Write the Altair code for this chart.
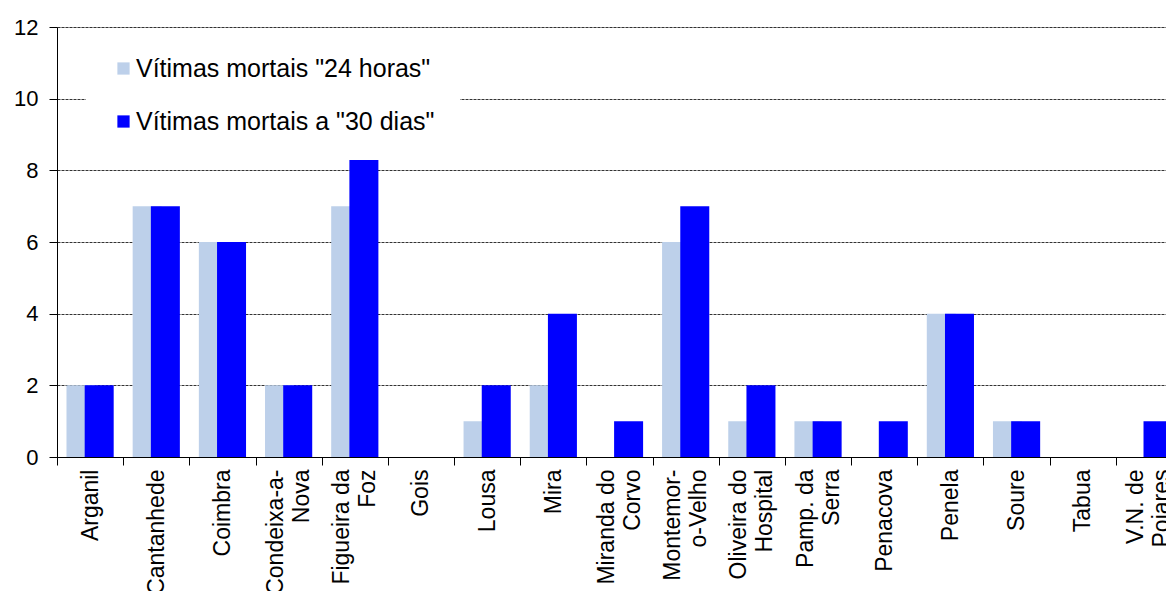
import altair as alt
import pandas as pd

categories = ["Arganil", "Cantanhede", "Coimbra", "Condeixa-a-\nNova", "Figueira da\nFoz",
              "Gois", "Lousa", "Mira", "Miranda do\nCorvo", "Montemor-\no-Velho",
              "Oliveira do\nHospital", "Pamp. da\nSerra", "Penacova", "Penela", "Soure",
              "Tabua", "V.N. de\nPoiares"]
series_names = ['Vítimas mortais "24 horas"', 'Vítimas mortais a "30 dias"']
vals_24h = [2, 7, 6, 2, 7, 0, 1, 2, 0, 6, 1, 1, 0, 4, 1, 0, 0]
vals_30d = [2, 7, 6, 2, 8.6, 0, 2, 4, 1, 7, 2, 1, 1, 4, 1, 0, 1]
y_ticks = [0, 2, 4, 6, 8, 10, 12]

rows = []
for c, v in zip(categories, vals_24h):
    rows.append({"cat": c, "serie": series_names[0], "v": v})
for c, v in zip(categories, vals_30d):
    rows.append({"cat": c, "serie": series_names[1], "v": v})
df = pd.DataFrame(rows)

FONT = "Liberation Sans"

x_enc = alt.X("cat:N", sort=categories, title=None,
              scale=alt.Scale(paddingInner=0, paddingOuter=0),
              axis=alt.Axis(labelAngle=270, labelFontSize=23, labelFont=FONT,
                            labelColor="black", labelPadding=4, labelLineHeight=26,
                            labelExpr="split(datum.label, '\\n')",
                            labelOffset={"condition": {"test": "indexof(datum.label, '\\n') >= 0",
                                                       "value": -13}, "value": 0},
                            tickBand="extent", tickSize=8, tickColor="black",
                            domainColor="black", grid=False, labelLimit=300))
y_enc = alt.Y("v:Q", title=None,
              scale=alt.Scale(domain=[0, 12], nice=False),
              axis=alt.Axis(values=y_ticks, labelFontSize=22, labelFont=FONT,
                            labelColor="black", tickSize=8, tickColor="black",
                            labelPadding=11, domainColor="black",
                            grid=True, gridColor="#333333", gridDash=[3, 1],
                            gridWidth=1))
color_enc = alt.Color("serie:N", title=None,
                      scale=alt.Scale(domain=series_names, range=["#BDD0EA", "#0000FF"]),
                      legend=alt.Legend(orient="none", legendX=29, legendY=4,
                                        direction="vertical", fillColor="white",
                                        padding=25, symbolType="square", symbolSize=150,
                                        symbolStrokeWidth=0, symbolOpacity=1,
                                        labelFontSize=25, labelFont=FONT,
                                        labelColor="black", labelOffset=0,
                                        rowPadding=27, labelLimit=500))

base = alt.Chart(df)
light = base.transform_filter(alt.datum.serie == series_names[0]).mark_bar(
    width=29, xOffset=-9.1).encode(x=x_enc, y=y_enc, color=color_enc)
dark = base.transform_filter(alt.datum.serie == series_names[1]).mark_bar(
    width=29, xOffset=9.1).encode(x=x_enc, y=y_enc, color=color_enc)

chart = alt.layer(light, dark).properties(
    width=1125, height=430,
    autosize=alt.AutoSizeParams(type="none"),
    padding={"left": 49, "top": 19, "right": -16, "bottom": 134},
).configure_view(stroke=None).configure(background="white")

chart.save("out.html", embed_options={"renderer": "svg", "actions": False})
